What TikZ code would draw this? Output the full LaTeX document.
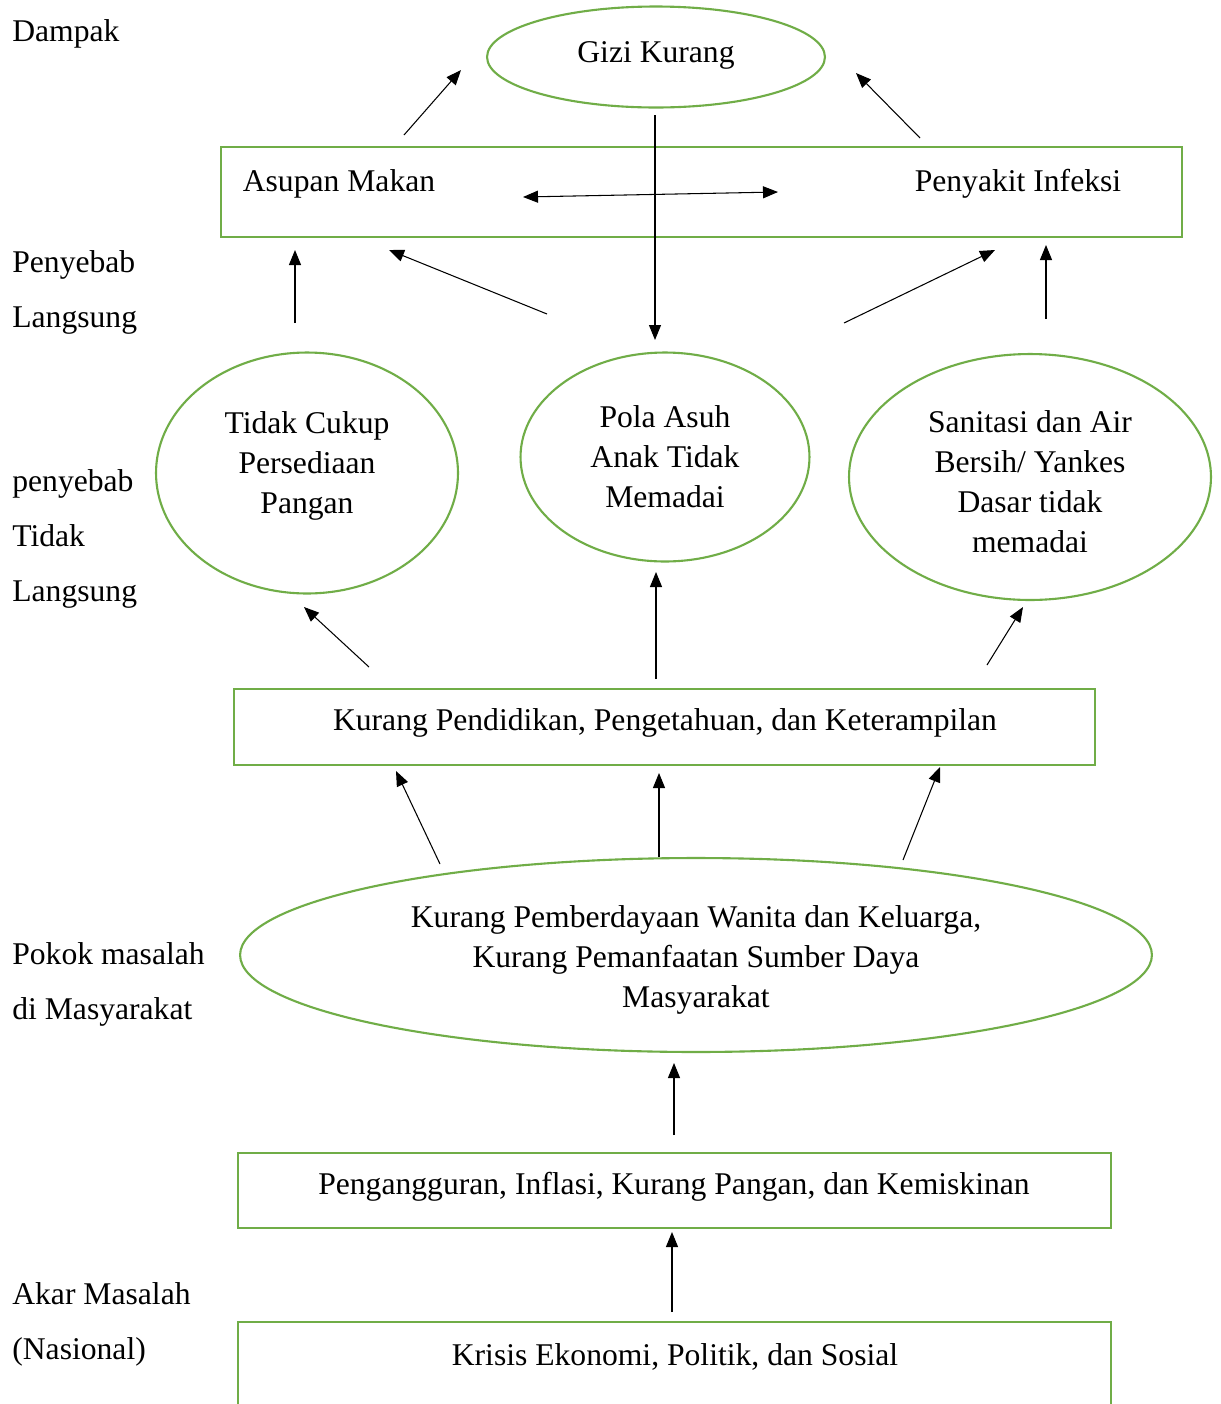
\documentclass[tikz,border=0pt]{standalone}
\usepackage{fontspec}
\setmainfont{Liberation Serif}
\usetikzlibrary{arrows.meta,shapes.geometric}
\definecolor{leafgreen}{RGB}{112,173,71}
\tikzset{
	every node/.style={font=\fontsize{18pt}{22.8pt}\selectfont},
	greenbox/.style={draw=leafgreen, line width=1.2pt, rectangle, inner sep=0pt},
	greenoval/.style={draw=leafgreen, line width=1.2pt, ellipse, inner sep=0pt, align=center},
	sidelabel/.style={anchor=west, align=left, inner sep=0pt, font=\fontsize{18pt}{31.3pt}\selectfont},
	arr/.style={line width=0.6pt, -{Triangle[length=0.3cm,width=0.24cm]}},
	darr/.style={line width=0.6pt, {Triangle[length=0.3cm,width=0.24cm]}-{Triangle[length=0.3cm,width=0.24cm]}}
}
\begin{document}
\begin{tikzpicture}[x=0.02cm,y=-0.02cm]
		\clip (0,0) rectangle (1221,1404);
		\fill [white] (0,0) rectangle (1221,1404);
		
		% left side labels
		\node [sidelabel] (dampak) at (12,34) {Dampak};
		\node [sidelabel] (langsung) at (12,292) {Penyebab\\Langsung};
		\node [sidelabel] (tdklangsung) at (12,539) {penyebab\\Tidak\\Langsung};
		\node [sidelabel] (pokok) at (12,984) {Pokok masalah\\di Masyarakat};
		\node [sidelabel] (akar) at (12,1324) {Akar Masalah\\(Nasional)};
		
		% shapes
		\node [greenoval, minimum width=6.76cm, minimum height=2.02cm] (gizi) at (656,57) {};
		\node at (656,55) {Gizi Kurang};
		\node [greenbox, minimum width=19.22cm, minimum height=1.8cm] (asupan) at (701.5,192) {};
		\node (makan) at (339,184) {Asupan Makan};
		\node (infeksi) at (1018,184) {Penyakit Infeksi};
		\node [greenoval, minimum width=6.04cm, minimum height=4.82cm] (pangan) at (307,473) {};
		\node [align=center] at (307,466) {Tidak Cukup\\Persediaan\\Pangan};
		\node [greenoval, minimum width=5.78cm, minimum height=4.18cm] (polaasuh) at (665,457) {};
		\node [align=center] at (665,457) {Pola Asuh\\Anak Tidak\\Memadai};
		\node [greenoval, minimum width=7.24cm, minimum height=4.92cm] (sanitasi) at (1030,477) {};
		\node [align=center] at (1030,482) {Sanitasi dan Air\\Bersih/ Yankes\\Dasar tidak\\memadai};
		\node [greenbox, minimum width=17.22cm, minimum height=1.52cm] (pendidikan) at (664.5,727) {};
		\node at (665,723) {Kurang Pendidikan, Pengetahuan, dan Keterampilan};
		\node [greenoval, minimum width=18.24cm, minimum height=3.88cm] (pemberdayaan) at (696,955) {};
		\node [align=center] at (696,960) {Kurang Pemberdayaan Wanita dan Keluarga,\\Kurang Pemanfaatan Sumber Daya\\Masyarakat};
		\node [greenbox, minimum width=17.46cm, minimum height=1.5cm] (pengangguran) at (674.5,1190.5) {};
		\node at (674,1187) {Pengangguran, Inflasi, Kurang Pangan, dan Kemiskinan};
		\node [greenbox, minimum width=17.46cm, minimum height=2.8cm] (krisis) at (674.5,1392) {};
		\node at (675,1357) {Krisis Ekonomi, Politik, dan Sosial};
		
		% arrow ends
		\coordinate (a1) at (404,135); \coordinate (b1) at (461,70);
		\coordinate (a2) at (920,138); \coordinate (b2) at (856,73);
		\coordinate (a3) at (523,197); \coordinate (b3) at (778,192);
		\coordinate (a4) at (655,115); \coordinate (b4) at (655,340);
		\coordinate (a5) at (295,323); \coordinate (b5) at (295,250);
		\coordinate (a6) at (547,314); \coordinate (b6) at (389,250);
		\coordinate (a7) at (844,323); \coordinate (b7) at (995,250);
		\coordinate (a8) at (1046,319); \coordinate (b8) at (1046,245);
		\coordinate (a9) at (369,667); \coordinate (b9) at (304,607);
		\coordinate (a10) at (656,679); \coordinate (b10) at (656,572);
		\coordinate (a11) at (987,665); \coordinate (b11) at (1023,607);
		\coordinate (a12) at (440,864); \coordinate (b12) at (396,771);
		\coordinate (a13) at (659,857); \coordinate (b13) at (659,773);
		\coordinate (a14) at (903,860); \coordinate (b14) at (940,767);
		\coordinate (a15) at (674,1135); \coordinate (b15) at (674,1063);
		\coordinate (a16) at (672,1312); \coordinate (b16) at (672,1232);
		
		\draw [darr] (a3) -- (b3);
		\foreach \i in {1,2,4,5,6,7,8,9,10,11,12,13,14,15,16}
			\draw [arr] (a\i) -- (b\i);
	\end{tikzpicture}
\end{document}
